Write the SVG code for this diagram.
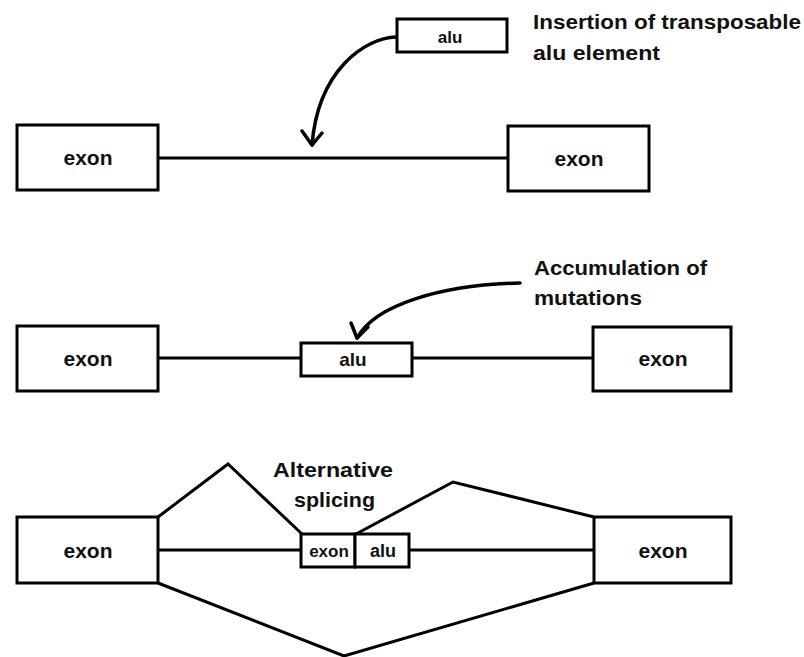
<svg xmlns="http://www.w3.org/2000/svg" width="804" height="657" viewBox="0 0 804 657">
<style>
.box{fill:#fff;stroke:#000;stroke-width:3}
.ln{fill:none;stroke:#000;stroke-width:3;stroke-linejoin:miter}
.arw{fill:none;stroke:#000;stroke-width:3.5;stroke-linecap:round;stroke-linejoin:round}
.lbl{font-family:"Liberation Sans",Arial,sans-serif;font-weight:bold;fill:#111;text-anchor:middle}
.big{font-size:21px}
.note{font-family:"Liberation Sans",Arial,sans-serif;font-weight:bold;font-size:21px;fill:#111}
</style>
<rect width="804" height="657" fill="#fff"/>
<g id="connectors">
  <line class="ln" x1="158" y1="158" x2="508" y2="158"/>
  <line class="ln" x1="158" y1="358" x2="301" y2="358"/>
  <line class="ln" x1="412" y1="358" x2="593" y2="358"/>
  <line class="ln" x1="158" y1="550" x2="301" y2="550"/>
  <line class="ln" x1="409" y1="550" x2="594" y2="550"/>
  <polyline class="ln" points="158,517 228,464 302,534"/>
  <polyline class="ln" points="356,534 453,482 594,517"/>
  <polyline class="ln" points="158,583 344,656 594,583"/>
  <path class="arw" d="M396,37 C365,38 318,70 312,145"/>
  <polyline class="arw" points="302,131 312,145 322,133"/>
  <path class="arw" d="M520,283 C440,285 375,305 357,338"/>
  <polyline class="arw" points="351,323 357,338 368,327"/>
</g>
<g id="row1-exon-left"><rect class="box" x="17" y="125" width="141" height="65"/><text class="lbl big" x="88" y="165">exon</text></g>
<g id="row1-exon-right"><rect class="box" x="508" y="126" width="141" height="65"/><text class="lbl big" x="579" y="166">exon</text></g>
<g id="row1-alu"><rect class="box" x="397" y="19" width="110" height="33"/><text class="lbl" font-size="17" x="450" y="43">alu</text></g>
<g id="label-insertion">
  <text class="note" x="533" y="29" textLength="268" lengthAdjust="spacingAndGlyphs">Insertion of transposable</text>
  <text class="note" x="533" y="60" textLength="127" lengthAdjust="spacingAndGlyphs">alu element</text>
</g>
<g id="row2-exon-left"><rect class="box" x="17" y="326" width="141" height="65"/><text class="lbl big" x="88" y="366">exon</text></g>
<g id="row2-alu"><rect class="box" x="301" y="343" width="111" height="33"/><text class="lbl" font-size="19" x="353" y="366">alu</text></g>
<g id="row2-exon-right"><rect class="box" x="593" y="327" width="138" height="64"/><text class="lbl big" x="663" y="366">exon</text></g>
<g id="label-accumulation">
  <text class="note" x="534" y="275" textLength="173" lengthAdjust="spacingAndGlyphs">Accumulation of</text>
  <text class="note" x="534" y="305" textLength="108" lengthAdjust="spacingAndGlyphs">mutations</text>
</g>
<g id="row3-exon-left"><rect class="box" x="17" y="517" width="141" height="66"/><text class="lbl big" x="88" y="558">exon</text></g>
<g id="row3-exon-mid"><rect class="box" x="301" y="534" width="54" height="33"/><text class="lbl" font-size="17" x="329" y="557" font-weight="normal">exon</text></g>
<g id="row3-alu"><rect class="box" x="355" y="534" width="54" height="33"/><text class="lbl" font-size="18" x="383" y="557">alu</text></g>
<g id="row3-exon-right"><rect class="box" x="594" y="517" width="137" height="66"/><text class="lbl big" x="663" y="558">exon</text></g>
<g id="label-splicing">
  <text class="note" x="273" y="477" textLength="120" lengthAdjust="spacingAndGlyphs">Alternative</text>
  <text class="note" x="294" y="507" textLength="81" lengthAdjust="spacingAndGlyphs">splicing</text>
</g>
</svg>
